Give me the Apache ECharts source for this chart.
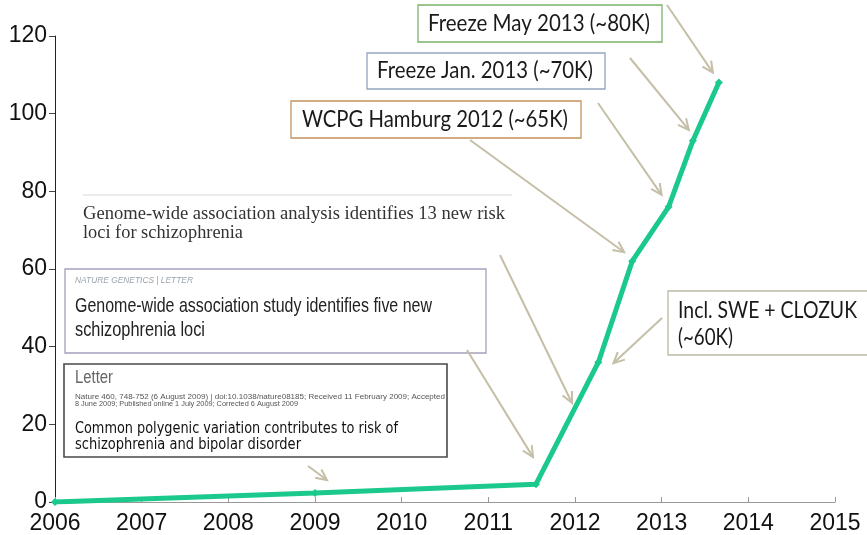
<!DOCTYPE html>
<html>
<head>
<meta charset="utf-8">
<script src="https://cdn.jsdelivr.net/npm/echarts@6/dist/echarts.min.js"></script>
<style>html,body{margin:0;padding:0;background:#fff;}#c{width:867px;height:535px;}</style>
</head>
<body>
<div id="c"></div>
<script>
// ---- data ----
var years  = [2006, 2009, 2011.55, 2012.27, 2012.66, 2013.08, 2013.36, 2013.66];
var values = [0, 2.3, 4.6, 36, 62, 76, 93, 108];
var yTicks = [0, 20, 40, 60, 80, 100, 120];
var xTicks = [2006, 2007, 2008, 2009, 2010, 2011, 2012, 2013, 2014, 2015];

var chart = echarts.init(document.getElementById('c'), null, {renderer: 'canvas'});
var option = {
  animation: false,
  backgroundColor: '#ffffff',
  grid: {left: 55, right: 32, top: 36, bottom: 32},
  xAxis: {
    type: 'value', min: xTicks[0], max: xTicks[xTicks.length - 1], interval: 1,
    splitLine: {show: false},
    axisLine: {show: true, lineStyle: {color: '#999', width: 1}},
    axisTick: {show: true, inside: true, length: 5, lineStyle: {color: '#999'}},
    axisLabel: {formatter: function (v) { return String(v); }, color: '#111',
      fontFamily: 'Liberation Sans, Arial', fontSize: 23, margin: 10}
  },
  yAxis: {
    type: 'value', min: yTicks[0], max: yTicks[yTicks.length - 1], interval: 20,
    splitLine: {show: false},
    axisLine: {show: true, lineStyle: {color: '#222', width: 1}},
    axisTick: {show: true, length: 6, lineStyle: {color: '#444'}},
    axisLabel: {color: '#111', fontFamily: 'Liberation Sans, Arial', fontSize: 23, margin: 8}
  },
  series: [{
    type: 'line',
    data: years.map(function (y, i) { return [y, values[i]]; }),
    lineStyle: {color: '#1cc98d', width: 5},
    itemStyle: {color: '#1cc98d'},
    symbol: 'diamond', symbolSize: 8, showAllSymbol: true
  }]
};
chart.setOption(option);

// ---- annotations (layout) ----
var cvs = document.createElement('canvas').getContext('2d');
function measure(text, font) { cvs.font = font; return cvs.measureText(text).width; }

var g = [];
function rect(x, y, w, h, stroke, lw) {
  g.push({type: 'rect', shape: {x: x, y: y, width: w, height: h},
    style: {fill: '#fff', stroke: stroke, lineWidth: lw || 1.3}, z: 10});
}
function text(t, x, y, w, family, size, color, extra) {
  extra = extra || {};
  var weight = extra.weight || 'normal', fst = extra.style || 'normal';
  var font = fst + ' ' + weight + ' ' + size + 'px ' + family;
  var sx = w / measure(t, font);
  g.push({type: 'text', x: x, y: y, scaleX: sx, z: 11,
    style: {text: t, x: 0, y: 0, fill: color, font: font, align: 'left', verticalAlign: 'top'}});
}
function arrow(x1, y1, x2, y2) {
  var dx = x2 - x1, dy = y2 - y1, L = Math.sqrt(dx * dx + dy * dy);
  var ux = dx / L, uy = dy / L, hl = 12, a = 0.45;
  function rot(c, s) { return [ux * c - uy * s, ux * s + uy * c]; }
  var r1 = rot(Math.cos(a), Math.sin(a)), r2 = rot(Math.cos(a), -Math.sin(a));
  var col = '#c5bfa8';
  g.push({type: 'polyline', shape: {points: [[x1, y1], [x2, y2]]}, style: {stroke: col, lineWidth: 2}, z: 12});
  g.push({type: 'polyline', shape: {points: [[x2 - r1[0] * hl, y2 - r1[1] * hl], [x2, y2], [x2 - r2[0] * hl, y2 - r2[1] * hl]]},
    style: {stroke: col, lineWidth: 2, fill: null}, z: 12});
}
function px(i, ox, oy) {
  var p = chart.convertToPixel({gridIndex: 0}, [years[i], values[i]]);
  return [p[0] + ox, p[1] + oy];
}

var CAL = 'Lato, "Open Sans", sans-serif';
// top boxes
rect(418, 5, 244, 37, '#7ab46a');
text('Freeze May 2013 (~80K)', 428, 11, 222, CAL, 24, '#1a1a1a');
rect(367, 53, 238, 36, '#93a5c0');
text('Freeze Jan. 2013 (~70K)', 377, 58, 216, CAL, 24, '#1a1a1a');
rect(291, 101, 290, 37, '#c4915a');
text('WCPG Hamburg 2012 (~65K)', 302, 107, 266, CAL, 24, '#1a1a1a');
rect(668, 291, 210, 64, '#bdb9a2');
text('Incl. SWE + CLOZUK', 678, 298, 179, CAL, 24, '#1a1a1a');
text('(~60K)', 678, 325, 55, CAL, 24, '#1a1a1a');

// serif title
g.push({type: 'line', shape: {x1: 83, y1: 195, x2: 512, y2: 195}, style: {stroke: '#e4e4e4', lineWidth: 1.5}, z: 10});
text('Genome-wide association analysis identifies 13 new risk', 83, 205, 422, '"Liberation Serif", "DejaVu Serif", serif', 18, '#333');
text('loci for schizophrenia', 83, 224, 160, '"Liberation Serif", "DejaVu Serif", serif', 18, '#333');

// Nature Genetics box
rect(65, 269, 421, 84, '#a3a1bd', 1.3);
text('NATURE GENETICS | LETTER', 75, 276, 118, '"Liberation Sans", Arial', 9, '#9aa3ad', {style: 'italic'});
text('Genome-wide association study identifies five new', 75, 296, 357, '"Liberation Sans", Arial', 21, '#222');
text('schizophrenia loci', 75, 320, 130, '"Liberation Sans", Arial', 21, '#222');

// Letter box
rect(64, 364, 383, 93, '#4a4a4a', 1.6);
text('Letter', 75, 369, 38, '"Liberation Sans", Arial', 18, '#666');
text('Nature 460, 748-752 (6 August 2009) | doi:10.1038/nature08185; Received 11 February 2009; Accepted', 75, 394, 370, '"Liberation Sans", Arial', 7, '#555');
text('8 June 2009; Published online 1 July 2009; Corrected 6 August 2009', 75, 401, 223, '"Liberation Sans", Arial', 7, '#555');
text('Common polygenic variation contributes to risk of', 75, 421, 323, '"DejaVu Sans", Verdana', 16, '#111');
text('schizophrenia and bipolar disorder', 75, 437, 226, '"DejaVu Sans", Verdana', 16, '#111');

// arrows (start in pixels, end near data points)
var e;
e = px(7, -6, -10); arrow(667, 5, e[0], e[1]);
e = px(6, -4, -11); arrow(630, 58, e[0], e[1]);
e = px(5, -7, -12); arrow(598, 103, e[0], e[1]);
e = px(4, -8, -9);  arrow(470, 140, e[0], e[1]);
e = px(3, 15, 1);   arrow(662, 318, e[0], e[1]);
arrow(500, 255, 572, 403);
e = px(2, -3, -27); arrow(467, 350, e[0], e[1]);
e = px(1, 12, -13); arrow(308, 466, e[0], e[1]);

chart.setOption({graphic: g});
</script>
</body>
</html>
